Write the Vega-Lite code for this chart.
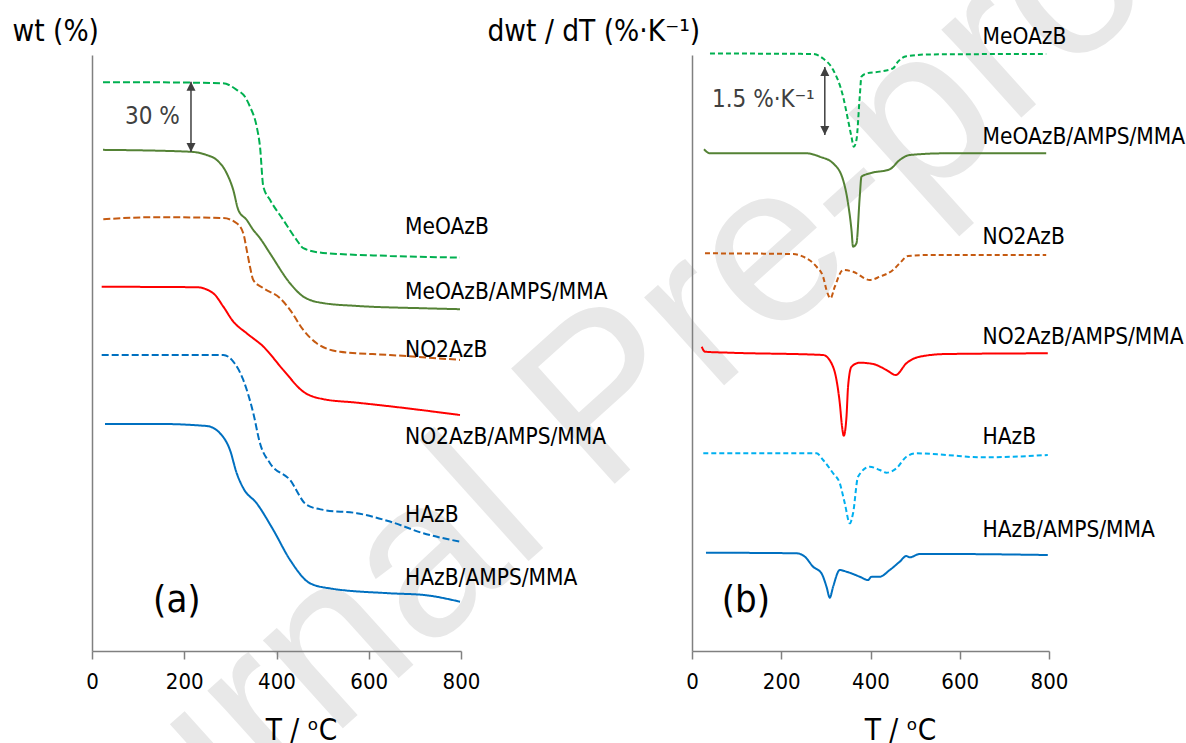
{
  "$schema": "https://vega.github.io/schema/vega-lite/v6.json",
  "autosize": "none",
  "padding": {"left": 92, "top": 55, "right": 1094, "bottom": 688},
  "background": "white",
  "config": {
    "view": {"stroke": null},
    "axis": {
      "grid": false,
      "domainColor": "#808080",
      "domainWidth": 1.5,
      "tickColor": "#808080",
      "tickWidth": 1.5,
      "labelColor": "black",
      "titleColor": "black",
      "titleFontWeight": "normal",
      "labelFont": "DejaVu Sans Condensed, DejaVu Sans",
      "titleFont": "DejaVu Sans Condensed, DejaVu Sans"
    }
  },
  "resolve": {"scale": {"x": "independent", "y": "independent", "color": "independent", "strokeDash": "independent", "shape": "independent"}},
  "bounds": "flush",
  "spacing": 231,
  "datasets": {
    "tga": [
      {"s": "MeOAzB", "T": 23.8, "w": 243.4}, {"s": "MeOAzB", "T": 125.7, "w": 243.4}, {"s": "MeOAzB", "T": 284, "w": 243.0}, {"s": "MeOAzB", "T": 313.7, "w": 240.2}, {"s": "MeOAzB", "T": 331.7, "w": 237.2}, {"s": "MeOAzB", "T": 342.5, "w": 233.0}, {"s": "MeOAzB", "T": 357.1, "w": 224.4}, {"s": "MeOAzB", "T": 364.2, "w": 215.9}, {"s": "MeOAzB", "T": 371.4, "w": 198.8}, {"s": "MeOAzB", "T": 385.9, "w": 193.1}, {"s": "MeOAzB", "T": 414.7, "w": 184.5}, {"s": "MeOAzB", "T": 443.8, "w": 175.9}, {"s": "MeOAzB", "T": 458.1, "w": 172.4}, {"s": "MeOAzB", "T": 500.8, "w": 170.4}, {"s": "MeOAzB", "T": 646, "w": 169.1}, {"s": "MeOAzB", "T": 797.8, "w": 168.4},
      {"s": "MeOAzB/AMPS/MMA", "T": 23.8, "w": 214.5}, {"s": "MeOAzB/AMPS/MMA", "T": 212.5, "w": 213.7}, {"s": "MeOAzB/AMPS/MMA", "T": 248.7, "w": 212.3}, {"s": "MeOAzB/AMPS/MMA", "T": 270.4, "w": 210.2}, {"s": "MeOAzB/AMPS/MMA", "T": 292, "w": 204.5}, {"s": "MeOAzB/AMPS/MMA", "T": 306.3, "w": 197.3}, {"s": "MeOAzB/AMPS/MMA", "T": 317.2, "w": 188.8}, {"s": "MeOAzB/AMPS/MMA", "T": 335.4, "w": 184.5}, {"s": "MeOAzB/AMPS/MMA", "T": 349.7, "w": 180.2}, {"s": "MeOAzB/AMPS/MMA", "T": 364.2, "w": 176.7}, {"s": "MeOAzB/AMPS/MMA", "T": 385.9, "w": 170.2}, {"s": "MeOAzB/AMPS/MMA", "T": 429.3, "w": 157.4}, {"s": "MeOAzB/AMPS/MMA", "T": 458.1, "w": 151.7}, {"s": "MeOAzB/AMPS/MMA", "T": 501.5, "w": 148.9}, {"s": "MeOAzB/AMPS/MMA", "T": 573.9, "w": 147.7}, {"s": "MeOAzB/AMPS/MMA", "T": 718.3, "w": 146.7}, {"s": "MeOAzB/AMPS/MMA", "T": 797.8, "w": 146.3},
      {"s": "NO2AzB", "T": 24.5, "w": 184.8}, {"s": "NO2AzB", "T": 140.3, "w": 185.7}, {"s": "NO2AzB", "T": 284.7, "w": 185.3}, {"s": "NO2AzB", "T": 313.7, "w": 183.1}, {"s": "NO2AzB", "T": 328, "w": 178.8}, {"s": "NO2AzB", "T": 335.4, "w": 171.7}, {"s": "NO2AzB", "T": 342.5, "w": 164.5}, {"s": "NO2AzB", "T": 349.7, "w": 158.8}, {"s": "NO2AzB", "T": 371.4, "w": 155.3}, {"s": "NO2AzB", "T": 407.6, "w": 151.0}, {"s": "NO2AzB", "T": 429.3, "w": 146.0}, {"s": "NO2AzB", "T": 458.1, "w": 137.4}, {"s": "NO2AzB", "T": 487.2, "w": 131.7}, {"s": "NO2AzB", "T": 537.7, "w": 128.1}, {"s": "NO2AzB", "T": 646, "w": 126.7}, {"s": "NO2AzB", "T": 797.8, "w": 124.6},
      {"s": "NO2AzB/AMPS/MMA", "T": 21, "w": 155.9}, {"s": "NO2AzB/AMPS/MMA", "T": 227, "w": 155.7}, {"s": "NO2AzB/AMPS/MMA", "T": 263, "w": 153.1}, {"s": "NO2AzB/AMPS/MMA", "T": 284.7, "w": 147.4}, {"s": "NO2AzB/AMPS/MMA", "T": 306.3, "w": 141.0}, {"s": "NO2AzB/AMPS/MMA", "T": 335.4, "w": 136.0}, {"s": "NO2AzB/AMPS/MMA", "T": 371.4, "w": 130.3}, {"s": "NO2AzB/AMPS/MMA", "T": 414.7, "w": 120.3}, {"s": "NO2AzB/AMPS/MMA", "T": 458.1, "w": 111.0}, {"s": "NO2AzB/AMPS/MMA", "T": 501.5, "w": 107.8}, {"s": "NO2AzB/AMPS/MMA", "T": 573.9, "w": 106.3}, {"s": "NO2AzB/AMPS/MMA", "T": 682.3, "w": 103.9}, {"s": "NO2AzB/AMPS/MMA", "T": 797.8, "w": 101.0},
      {"s": "HAzB", "T": 21, "w": 126.7}, {"s": "HAzB", "T": 284.7, "w": 126.7}, {"s": "HAzB", "T": 306.3, "w": 123.9}, {"s": "HAzB", "T": 328, "w": 116.0}, {"s": "HAzB", "T": 349.7, "w": 101.8}, {"s": "HAzB", "T": 364.2, "w": 88.9}, {"s": "HAzB", "T": 385.9, "w": 80.4}, {"s": "HAzB", "T": 429.3, "w": 73.2}, {"s": "HAzB", "T": 465.5, "w": 62.5}, {"s": "HAzB", "T": 501.5, "w": 60.4}, {"s": "HAzB", "T": 573.9, "w": 59.0}, {"s": "HAzB", "T": 646, "w": 55.4}, {"s": "HAzB", "T": 718.3, "w": 50.4}, {"s": "HAzB", "T": 797.8, "w": 46.8},
      {"s": "HAzB/AMPS/MMA", "T": 28.2, "w": 97.2}, {"s": "HAzB/AMPS/MMA", "T": 140.3, "w": 97.2}, {"s": "HAzB/AMPS/MMA", "T": 248.7, "w": 96.3}, {"s": "HAzB/AMPS/MMA", "T": 277.5, "w": 93.2}, {"s": "HAzB/AMPS/MMA", "T": 299.2, "w": 86.0}, {"s": "HAzB/AMPS/MMA", "T": 313.7, "w": 76.1}, {"s": "HAzB/AMPS/MMA", "T": 328, "w": 69.7}, {"s": "HAzB/AMPS/MMA", "T": 357.1, "w": 63.2}, {"s": "HAzB/AMPS/MMA", "T": 393.1, "w": 51.8}, {"s": "HAzB/AMPS/MMA", "T": 429.3, "w": 39.0}, {"s": "HAzB/AMPS/MMA", "T": 472.6, "w": 29.0}, {"s": "HAzB/AMPS/MMA", "T": 516, "w": 26.8}, {"s": "HAzB/AMPS/MMA", "T": 646, "w": 24.7}, {"s": "HAzB/AMPS/MMA", "T": 718.3, "w": 24.0}, {"s": "HAzB/AMPS/MMA", "T": 797.8, "w": 21.1}
    ],
    "dtg": [
      {"s": "MeOAzB", "T": 40.3, "w": 13.19}, {"s": "MeOAzB", "T": 271.4, "w": 13.18}, {"s": "MeOAzB", "T": 293.8, "w": 13.08}, {"s": "MeOAzB", "T": 316.2, "w": 12.83}, {"s": "MeOAzB", "T": 338.6, "w": 12.24}, {"s": "MeOAzB", "T": 349.7, "w": 11.72}, {"s": "MeOAzB", "T": 357.4, "w": 11.35}, {"s": "MeOAzB", "T": 362.5, "w": 11.13}, {"s": "MeOAzB", "T": 368.5, "w": 11.28}, {"s": "MeOAzB", "T": 375.9, "w": 12.24}, {"s": "MeOAzB", "T": 379.7, "w": 12.68}, {"s": "MeOAzB", "T": 390.9, "w": 12.75}, {"s": "MeOAzB", "T": 420.7, "w": 12.79}, {"s": "MeOAzB", "T": 450.4, "w": 12.86}, {"s": "MeOAzB", "T": 461.6, "w": 13.01}, {"s": "MeOAzB", "T": 480.4, "w": 13.13}, {"s": "MeOAzB", "T": 532.6, "w": 13.17}, {"s": "MeOAzB", "T": 793.7, "w": 13.18},
      {"s": "MeOAzB/AMPS/MMA", "T": 26.9, "w": 11.075}, {"s": "MeOAzB/AMPS/MMA", "T": 40.3, "w": 10.987}, {"s": "MeOAzB/AMPS/MMA", "T": 122.4, "w": 10.987}, {"s": "MeOAzB/AMPS/MMA", "T": 256.7, "w": 10.987}, {"s": "MeOAzB/AMPS/MMA", "T": 286.4, "w": 10.912}, {"s": "MeOAzB/AMPS/MMA", "T": 316.2, "w": 10.766}, {"s": "MeOAzB/AMPS/MMA", "T": 338.6, "w": 10.397}, {"s": "MeOAzB/AMPS/MMA", "T": 349.7, "w": 9.883}, {"s": "MeOAzB/AMPS/MMA", "T": 357.4, "w": 9.294}, {"s": "MeOAzB/AMPS/MMA", "T": 360.9, "w": 8.925}, {"s": "MeOAzB/AMPS/MMA", "T": 368.5, "w": 9.0}, {"s": "MeOAzB/AMPS/MMA", "T": 375.9, "w": 10.029}, {"s": "MeOAzB/AMPS/MMA", "T": 379.7, "w": 10.47}, {"s": "MeOAzB/AMPS/MMA", "T": 398.3, "w": 10.545}, {"s": "MeOAzB/AMPS/MMA", "T": 443.1, "w": 10.634}, {"s": "MeOAzB/AMPS/MMA", "T": 465.4, "w": 10.839}, {"s": "MeOAzB/AMPS/MMA", "T": 487.8, "w": 10.949}, {"s": "MeOAzB/AMPS/MMA", "T": 569.9, "w": 10.987}, {"s": "MeOAzB/AMPS/MMA", "T": 793.7, "w": 10.987},
      {"s": "NO2AzB", "T": 29.1, "w": 8.779}, {"s": "NO2AzB", "T": 226.7, "w": 8.764}, {"s": "NO2AzB", "T": 249.1, "w": 8.704}, {"s": "NO2AzB", "T": 279.0, "w": 8.483}, {"s": "NO2AzB", "T": 293.8, "w": 8.263}, {"s": "NO2AzB", "T": 301.4, "w": 7.969}, {"s": "NO2AzB", "T": 310.4, "w": 7.786}, {"s": "NO2AzB", "T": 320.0, "w": 8.042}, {"s": "NO2AzB", "T": 338.6, "w": 8.411}, {"s": "NO2AzB", "T": 360.9, "w": 8.373}, {"s": "NO2AzB", "T": 398.3, "w": 8.19}, {"s": "NO2AzB", "T": 420.7, "w": 8.263}, {"s": "NO2AzB", "T": 450.4, "w": 8.411}, {"s": "NO2AzB", "T": 465.4, "w": 8.559}, {"s": "NO2AzB", "T": 484.0, "w": 8.72}, {"s": "NO2AzB", "T": 532.6, "w": 8.742}, {"s": "NO2AzB", "T": 793.7, "w": 8.742},
      {"s": "NO2AzB/AMPS/MMA", "T": 21.7, "w": 6.717}, {"s": "NO2AzB/AMPS/MMA", "T": 29.1, "w": 6.607}, {"s": "NO2AzB/AMPS/MMA", "T": 85.0, "w": 6.585}, {"s": "NO2AzB/AMPS/MMA", "T": 293.8, "w": 6.534}, {"s": "NO2AzB/AMPS/MMA", "T": 312.6, "w": 6.351}, {"s": "NO2AzB/AMPS/MMA", "T": 323.8, "w": 5.982}, {"s": "NO2AzB/AMPS/MMA", "T": 331.2, "w": 5.468}, {"s": "NO2AzB/AMPS/MMA", "T": 336.3, "w": 4.951}, {"s": "NO2AzB/AMPS/MMA", "T": 340.1, "w": 4.753}, {"s": "NO2AzB/AMPS/MMA", "T": 346.2, "w": 5.172}, {"s": "NO2AzB/AMPS/MMA", "T": 349.7, "w": 5.834}, {"s": "NO2AzB/AMPS/MMA", "T": 357.4, "w": 6.276}, {"s": "NO2AzB/AMPS/MMA", "T": 375.9, "w": 6.364}, {"s": "NO2AzB/AMPS/MMA", "T": 405.7, "w": 6.336}, {"s": "NO2AzB/AMPS/MMA", "T": 435.7, "w": 6.203}, {"s": "NO2AzB/AMPS/MMA", "T": 456.5, "w": 6.093}, {"s": "NO2AzB/AMPS/MMA", "T": 480.4, "w": 6.351}, {"s": "NO2AzB/AMPS/MMA", "T": 510.2, "w": 6.497}, {"s": "NO2AzB/AMPS/MMA", "T": 569.9, "w": 6.556}, {"s": "NO2AzB/AMPS/MMA", "T": 797.3, "w": 6.572},
      {"s": "HAzB", "T": 25.3, "w": 4.364}, {"s": "HAzB", "T": 279.0, "w": 4.364}, {"s": "HAzB", "T": 293.8, "w": 4.216}, {"s": "HAzB", "T": 316.2, "w": 3.923}, {"s": "HAzB", "T": 331.2, "w": 3.702}, {"s": "HAzB", "T": 342.4, "w": 3.26}, {"s": "HAzB", "T": 353.6, "w": 2.819}, {"s": "HAzB", "T": 360.9, "w": 3.04}, {"s": "HAzB", "T": 372.1, "w": 3.848}, {"s": "HAzB", "T": 398.3, "w": 4.068}, {"s": "HAzB", "T": 420.7, "w": 3.996}, {"s": "HAzB", "T": 435.7, "w": 3.936}, {"s": "HAzB", "T": 458.1, "w": 4.033}, {"s": "HAzB", "T": 480.4, "w": 4.289}, {"s": "HAzB", "T": 502.8, "w": 4.364}, {"s": "HAzB", "T": 569.9, "w": 4.327}, {"s": "HAzB", "T": 644.4, "w": 4.276}, {"s": "HAzB", "T": 719.0, "w": 4.289}, {"s": "HAzB", "T": 797.3, "w": 4.327},
      {"s": "HAzB/AMPS/MMA", "T": 31.3, "w": 2.17}, {"s": "HAzB/AMPS/MMA", "T": 234.3, "w": 2.157}, {"s": "HAzB/AMPS/MMA", "T": 252.9, "w": 2.082}, {"s": "HAzB/AMPS/MMA", "T": 271.4, "w": 1.861}, {"s": "HAzB/AMPS/MMA", "T": 290.2, "w": 1.715}, {"s": "HAzB/AMPS/MMA", "T": 301.4, "w": 1.419}, {"s": "HAzB/AMPS/MMA", "T": 308.8, "w": 1.177}, {"s": "HAzB/AMPS/MMA", "T": 316.2, "w": 1.419}, {"s": "HAzB/AMPS/MMA", "T": 331.2, "w": 1.788}, {"s": "HAzB/AMPS/MMA", "T": 346.2, "w": 1.751}, {"s": "HAzB/AMPS/MMA", "T": 375.9, "w": 1.64}, {"s": "HAzB/AMPS/MMA", "T": 394.5, "w": 1.567}, {"s": "HAzB/AMPS/MMA", "T": 402.1, "w": 1.64}, {"s": "HAzB/AMPS/MMA", "T": 420.7, "w": 1.64}, {"s": "HAzB/AMPS/MMA", "T": 443.1, "w": 1.788}, {"s": "HAzB/AMPS/MMA", "T": 465.4, "w": 1.971}, {"s": "HAzB/AMPS/MMA", "T": 480.4, "w": 2.097}, {"s": "HAzB/AMPS/MMA", "T": 487.8, "w": 2.068}, {"s": "HAzB/AMPS/MMA", "T": 510.2, "w": 2.141}, {"s": "HAzB/AMPS/MMA", "T": 569.9, "w": 2.141}, {"s": "HAzB/AMPS/MMA", "T": 797.3, "w": 2.119}
    ],
    "labA": [
      {"s": "MeOAzB", "T": 678.6, "w": 181.5},
      {"s": "MeOAzB/AMPS/MMA", "T": 678.6, "w": 153.7},
      {"s": "NO2AzB", "T": 678.6, "w": 128.9},
      {"s": "NO2AzB/AMPS/MMA", "T": 678.6, "w": 91.6},
      {"s": "HAzB", "T": 678.6, "w": 58.2},
      {"s": "HAzB/AMPS/MMA", "T": 678.6, "w": 31.3}
    ],
    "labB": [
      {"s": "MeOAzB", "T": 651, "w": 13.554},
      {"s": "MeOAzB/AMPS/MMA", "T": 651, "w": 11.353},
      {"s": "NO2AzB", "T": 651, "w": 9.146},
      {"s": "NO2AzB/AMPS/MMA", "T": 651, "w": 6.925},
      {"s": "HAzB", "T": 651, "w": 4.731},
      {"s": "HAzB/AMPS/MMA", "T": 651, "w": 2.671}
    ],
    "arrA": [
      {"T": 214.6, "w": 243.6, "w2": 213.6}
    ],
    "headA": [
      {"T": 214.6, "w": 243.6, "end": "top"},
      {"T": 214.6, "w": 213.6, "end": "bottom"}
    ],
    "arrB": [
      {"T": 297.6, "w": 12.892, "w2": 11.391}
    ],
    "headB": [
      {"T": 297.6, "w": 12.892, "end": "top"},
      {"T": 297.6, "w": 11.391, "end": "bottom"}
    ]
  },
  "hconcat": [
    {
      "width": 369,
      "height": 596,
      "encoding": {
        "x": {
          "field": "T", "type": "quantitative",
          "scale": {"domain": [0, 800], "nice": false},
          "axis": {
            "zindex": 2,
            "values": [0, 200, 400, 600, 800], "title": "T / ᵒC", "tickSize": 8,
            "labelFontSize": 22, "labelPadding": 12, "labelFlush": false, "labelOverlap": false,
            "titleFontSize": 29.5, "titleX": 209, "titleY": 88, "titleAlign": "center", "titleBaseline": "alphabetic", "titleAnchor": null
          }
        },
        "y": {
          "field": "w", "type": "quantitative",
          "scale": {"domain": [0, 255.1], "nice": false, "zero": false},
          "axis": {
            "zindex": 2,
            "title": "wt (%)", "labels": false, "ticks": false,
            "titleAngle": 0, "titleFontSize": 29.5, "titleX": -80, "titleY": -15, "titleAlign": "left", "titleBaseline": "alphabetic", "titleAnchor": null
          }
        }
      },
      "layer": [
        {
          "data": {"values": [{"T": 1214.1, "w": 86.0, "t": "Journal Pre-proof"}]},
          "mark": {"type": "text", "angle": -42, "fontSize": 225, "font": "Liberation Sans", "color": "#e8e8e8", "align": "center", "baseline": "alphabetic"},
          "encoding": {"text": {"field": "t"}}
        },
        {
          "data": {"name": "tga"},
          "mark": {"type": "line", "strokeWidth": 2, "interpolate": "monotone"},
          "encoding": {
            "color": {"field": "s", "type": "nominal", "legend": null,
              "scale": {"domain": ["MeOAzB", "MeOAzB/AMPS/MMA", "NO2AzB", "NO2AzB/AMPS/MMA", "HAzB", "HAzB/AMPS/MMA"],
                        "range": ["#00b050", "#548235", "#c55a11", "#ff0000", "#0070c0", "#0070c0"]}},
            "strokeDash": {"field": "s", "type": "nominal", "legend": null,
              "scale": {"domain": ["MeOAzB", "MeOAzB/AMPS/MMA", "NO2AzB", "NO2AzB/AMPS/MMA", "HAzB", "HAzB/AMPS/MMA"],
                        "range": [[7, 3], [1, 0], [7, 3], [1, 0], [7, 3], [1, 0]]}}
          }
        },
        {
          "data": {"name": "labA"},
          "mark": {"type": "text", "align": "left", "baseline": "middle", "fontSize": 22.5, "font": "DejaVu Sans Condensed, DejaVu Sans", "color": "black"},
          "encoding": {"text": {"field": "s"}}
        },
        {
          "data": {"values": [{"T": 71.5, "w": 228.6, "t": "30 %"}]},
          "mark": {"type": "text", "align": "left", "baseline": "middle", "fontSize": 24, "font": "DejaVu Sans Condensed, DejaVu Sans", "color": "#404040"},
          "encoding": {"text": {"field": "t"}}
        },
        {
          "data": {"values": [{"T": 184, "w": 21.4, "t": "(a)"}]},
          "mark": {"type": "text", "align": "center", "baseline": "middle", "fontSize": 38, "font": "DejaVu Sans Condensed, DejaVu Sans", "color": "black"},
          "encoding": {"text": {"field": "t"}}
        },
        {
          "data": {"name": "arrA"},
          "mark": {"type": "rule", "color": "#404040", "strokeWidth": 1.5},
          "encoding": {"y2": {"field": "w2"}}
        },
        {
          "data": {"name": "headA"},
          "mark": {"type": "point", "filled": true, "color": "#404040", "opacity": 1, "size": 324},
          "encoding": {
            "shape": {"field": "end", "type": "nominal", "legend": null,
              "scale": {"domain": ["top", "bottom"], "range": ["M0,0L-0.5,1L0.5,1Z", "M0,0L-0.5,-1L0.5,-1Z"]}}
          }
        }
      ]
    },
    {
      "width": 357,
      "height": 596,
      "encoding": {
        "x": {
          "field": "T", "type": "quantitative",
          "scale": {"domain": [0, 800], "nice": false},
          "axis": {
            "zindex": 2,
            "values": [0, 200, 400, 600, 800], "title": "T / ᵒC", "tickSize": 8,
            "labelFontSize": 22, "labelPadding": 12, "labelFlush": false, "labelOverlap": false,
            "titleFontSize": 29.5, "titleX": 208, "titleY": 88, "titleAlign": "center", "titleBaseline": "alphabetic", "titleAnchor": null
          }
        },
        "y": {
          "field": "w", "type": "quantitative",
          "scale": {"domain": [0, 13.157], "nice": false, "zero": false},
          "axis": {
            "zindex": 2,
            "title": "dwt / dT (%·K⁻¹)", "labels": false, "ticks": false,
            "titleAngle": 0, "titleFontSize": 29.5, "titleX": -205, "titleY": -15, "titleAlign": "left", "titleBaseline": "alphabetic", "titleAnchor": null
          }
        }
      },
      "layer": [
        {
          "data": {"name": "dtg"},
          "mark": {"type": "line", "strokeWidth": 2, "interpolate": "monotone"},
          "encoding": {
            "color": {"field": "s", "type": "nominal", "legend": null,
              "scale": {"domain": ["MeOAzB", "MeOAzB/AMPS/MMA", "NO2AzB", "NO2AzB/AMPS/MMA", "HAzB", "HAzB/AMPS/MMA"],
                        "range": ["#00b050", "#548235", "#c55a11", "#ff0000", "#00b0f0", "#0070c0"]}},
            "strokeDash": {"field": "s", "type": "nominal", "legend": null,
              "scale": {"domain": ["MeOAzB", "MeOAzB/AMPS/MMA", "NO2AzB", "NO2AzB/AMPS/MMA", "HAzB", "HAzB/AMPS/MMA"],
                        "range": [[5, 3], [1, 0], [5, 3], [1, 0], [5, 3], [1, 0]]}}
          }
        },
        {
          "data": {"name": "labB"},
          "mark": {"type": "text", "align": "left", "baseline": "middle", "fontSize": 22.5, "font": "DejaVu Sans Condensed, DejaVu Sans", "color": "black"},
          "encoding": {"text": {"field": "s"}}
        },
        {
          "data": {"values": [{"T": 44.8, "w": 12.163, "t": "1.5 %·K⁻¹"}]},
          "mark": {"type": "text", "align": "left", "baseline": "middle", "fontSize": 24, "font": "DejaVu Sans Condensed, DejaVu Sans", "color": "#404040"},
          "encoding": {"text": {"field": "t"}}
        },
        {
          "data": {"values": [{"T": 120.8, "w": 1.104, "t": "(b)"}]},
          "mark": {"type": "text", "align": "center", "baseline": "middle", "fontSize": 38, "font": "DejaVu Sans Condensed, DejaVu Sans", "color": "black"},
          "encoding": {"text": {"field": "t"}}
        },
        {
          "data": {"name": "arrB"},
          "mark": {"type": "rule", "color": "#404040", "strokeWidth": 1.5},
          "encoding": {"y2": {"field": "w2"}}
        },
        {
          "data": {"name": "headB"},
          "mark": {"type": "point", "filled": true, "color": "#404040", "opacity": 1, "size": 324},
          "encoding": {
            "shape": {"field": "end", "type": "nominal", "legend": null,
              "scale": {"domain": ["top", "bottom"], "range": ["M0,0L-0.5,1L0.5,1Z", "M0,0L-0.5,-1L0.5,-1Z"]}}
          }
        }
      ]
    }
  ]
}
